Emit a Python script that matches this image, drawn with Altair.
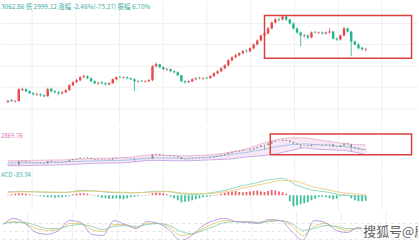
import altair as alt
import pandas as pd

# ---------------- data ----------------
idx = list(range(100))
opens = [2790, 2810, 2795, 2800, 2910, 2920, 2900, 2880, 2865, 2870,
         2860, 2850, 2925, 2900, 2890, 2878, 2890, 2910, 2960, 2990,
         3010, 3040, 3050, 3030, 3000, 2975, 2990, 2980, 2968, 2980,
         3020, 3045, 3035, 3040, 3030, 3020, 2995, 3005, 2995, 3000,
         3010, 3150, 3170, 3140, 3115, 3120, 3100, 3090, 3060, 3000,
         2990, 3000, 3020, 3035, 3025, 3035, 3030, 3050, 3080, 3100,
         3130, 3160, 3210, 3240, 3260, 3280, 3305, 3300, 3330, 3370,
         3410, 3460, 3480, 3530, 3590, 3625, 3620, 3650, 3620, 3580,
         3530, 3490, 3455, 3460, 3440, 3495, 3485, 3490, 3480, 3490,
         3500, 3430, 3420, 3460, 3530, 3500, 3400, 3370, 3335, 3315]
closes = [2800, 2800, 2800, 2920, 2920, 2900, 2880, 2870, 2870, 2860,
          2850, 2920, 2900, 2890, 2880, 2890, 2910, 2960, 2990, 3010,
          3040, 3050, 3030, 3000, 2980, 2980, 2980, 2970, 2980, 3020,
          3040, 3040, 3040, 3030, 3020, 3000, 3000, 3000, 3000, 3010,
          3150, 3170, 3140, 3120, 3120, 3100, 3090, 3060, 3000, 2990,
          3000, 3020, 3030, 3030, 3030, 3030, 3050, 3080, 3100, 3130,
          3160, 3210, 3240, 3260, 3280, 3300, 3300, 3330, 3370, 3410,
          3460, 3480, 3530, 3590, 3620, 3620, 3650, 3620, 3580, 3530,
          3490, 3460, 3460, 3440, 3490, 3490, 3490, 3480, 3490, 3500,
          3430, 3420, 3460, 3530, 3500, 3400, 3370, 3330, 3320, 3320]
highs = [2815, 2820, 2812, 2930, 2935, 2930, 2910, 2890, 2885, 2880,
         2870, 2935, 2935, 2910, 2900, 2900, 2920, 2970, 3000, 3025,
         3050, 3065, 3060, 3040, 3010, 2995, 3000, 2990, 2990, 3030,
         3050, 3055, 3050, 3050, 3040, 3030, 3010, 3015, 3010, 3020,
         3160, 3190, 3175, 3150, 3135, 3130, 3110, 3100, 3065, 3010,
         3010, 3030, 3040, 3045, 3040, 3045, 3060, 3090, 3110, 3140,
         3170, 3220, 3250, 3275, 3290, 3315, 3320, 3340, 3380, 3420,
         3470, 3495, 3545, 3600, 3635, 3640, 3665, 3660, 3630, 3590,
         3540, 3500, 3475, 3470, 3500, 3505, 3500, 3500, 3500, 3530,
         3505, 3440, 3470, 3545, 3540, 3505, 3410, 3380, 3345, 3335]
lows = [2780, 2790, 2785, 2795, 2900, 2890, 2870, 2855, 2850, 2845,
        2835, 2845, 2890, 2875, 2860, 2865, 2880, 2905, 2950, 2985,
        3000, 3030, 3020, 2990, 2970, 2965, 2970, 2955, 2960, 2975,
        3010, 3030, 3025, 3020, 3010, 2900, 2985, 2990, 2985, 2990,
        3000, 3140, 3130, 3110, 3105, 3090, 3080, 3050, 2990, 2975,
        2980, 2990, 3010, 3020, 3015, 3020, 3025, 3045, 3070, 3090,
        3120, 3150, 3200, 3230, 3250, 3270, 3285, 3290, 3320, 3360,
        3400, 3300, 3470, 3520, 3580, 3600, 3610, 3605, 3570, 3520,
        3475, 3350, 3440, 3425, 3430, 3480, 3475, 3470, 3470, 3480,
        3420, 3405, 3410, 3450, 3490, 3250, 3360, 3320, 3305, 3300]

band_idx = [0, 8, 16, 24, 32, 40, 48, 56, 62, 66, 70, 74, 78, 82, 86, 90, 94, 99]
band_upper = [2936, 2953, 2970, 3021, 3038, 3140, 3106, 3140, 3242, 3344, 3514, 3650, 3718, 3718, 3650, 3582, 3514, 3480]
band_mid = [2868, 2868, 2902, 2936, 2953, 3038, 3021, 3072, 3157, 3225, 3310, 3412, 3480, 3514, 3480, 3446, 3412, 3310]
band_lower = [2766, 2783, 2800, 2851, 2868, 2953, 2936, 2970, 3004, 3072, 3106, 3174, 3276, 3378, 3327, 3310, 3276, 3140]

macd_hist = [0.5, 1, 1.5, 2, 2, 1.5, 1, 0.5,
             -0.5, -1, -1.5, -2, -2, -2.5, -2, -2, -1.5, -1,
             1, 1.5, 2, 2, 1.5, 0.5, -0.5,
             -1.5, -2.5, -3, -3.5, -3.5, -3, -3.5, -4, -3, -2,
             -1.5, -1, -0.5, -0.5, 0.5,
             2, 2.5, 2.5, 2, 1,
             -1.5, -3, -5, -7, -6.5, -6, -5, -4, -3, -2, -1.5, -1,
             -0.5, 0.5, 1.5, 2.5, 3.5, 4, 4.5, 3.5, 3, 3.5, 4, 4.5, 5, 4, 3.5, 4.5, 5.5, 5, 4, 3, 1.5,
             -6, -11, -10, -9, -8, -7, -5, -3.5, -2, -1.5,
             -2, -3, -4, -3.5, -1, 1, 0.5,
             -3, -5, -6, -6, -5.5]
line_idx = [0, 4, 8, 12, 16, 20, 24, 28, 32, 36, 40, 44, 48, 52, 56, 60, 64, 68, 72, 76, 80, 84, 88, 92, 96, 99]
dif = [3.5, 4, 3.5, 3, 3, 5, 4.5, 3, 2.5, 2.5, 4, 4, 1.5, 1, 2.5, 5, 9, 12, 15.5, 17, 10, 5.5, 3.5, 0.5, -0.5, -1.5]
dea = [3, 3.5, 3.5, 3.2, 3, 4, 4.3, 3.5, 3, 2.7, 3.3, 3.8, 2.5, 1.7, 2, 3.5, 6.5, 9.5, 12.5, 15, 14, 9, 6, 3, 1.5, 0.5]

kdj_idx = list(range(0, 100, 3))
k_vals = [80, 87, 80, 61, 54, 57, 80, 80, 57, 50, 76, 76, 65, 80, 80, 65, 35, 39, 61, 80, 91, 87, 87, 84, 91, 91, 72, 35, 69, 80, 65, 54, 61, 50]
d_vals = [80, 84, 84, 72, 61, 61, 72, 76, 69, 57, 69, 72, 69, 76, 80, 72, 50, 42, 54, 69, 84, 87, 87, 84, 87, 91, 80, 54, 61, 72, 69, 61, 61, 54]
j_vals = [76, 99, 80, 46, 39, 54, 91, 84, 39, 35, 91, 76, 61, 87, 80, 54, 16, 35, 72, 91, 99, 87, 84, 80, 95, 91, 50, 16, 91, 84, 54, 46, 65, 39]
kdj_levels = [20, 50, 80]

grid_x = [6.7, 18.8, 30.9, 43.0, 55.1, 67.2, 79.3, 91.4, 103.5]
grid_price = [3580, 3370, 3150, 2940, 2720]

box_top_x = [71, 111.7]
box_top_price = [3660, 3230]
box_mid_x = [72.6, 111.7]
box_mid_price = [3854, 3140]

price_text = "3062.86 低 2999.12 涨幅 -2.46%(-75.27) 振幅 6.70%"
boll_text = "2869.76"
macd_text = "ACD -83.34"
watermark = "搜狐号@鹿"

# ---------------- style ----------------
RED = "#e5484d"
GREEN = "#1fb48c"
FONT = "Noto Sans CJK SC"
W = 419
xs = alt.Scale(domain=[-0.54, 112.1], nice=False, zero=False)
cs = alt.Scale(domain=["up", "down"], range=[RED, GREEN])

candles = pd.DataFrame({"i": idx, "open": opens, "close": closes, "high": highs, "low": lows})
candles["dir"] = ["up" if c >= o else "down" for o, c in zip(opens, closes)]

X = alt.X("i:Q", scale=xs, axis=None)


def vgrid():
    return alt.Chart(pd.DataFrame({"gx": grid_x})).mark_rule(color="#efefef", strokeWidth=1).encode(
        x=alt.X("gx:Q", scale=xs, axis=None))


def label(txt, x, y, color, size):
    return alt.Chart(pd.DataFrame({"t": [txt]})).mark_text(
        align="left", baseline="middle", fontSize=size, color=color, font=FONT, clip=True
    ).encode(x=alt.value(x), y=alt.value(y), text="t:N")


# top panel: candlesticks
ys_top = alt.Scale(domain=[2550, 3800], nice=False, zero=False)
hgrid = alt.Chart(pd.DataFrame({"gp": grid_price})).mark_rule(color="#efefef", strokeWidth=1).encode(
    y=alt.Y("gp:Q", scale=ys_top, axis=None))
cbase = alt.Chart(candles)
wick = cbase.mark_rule(strokeWidth=0.8, clip=True).encode(
    x=X, y=alt.Y("low:Q", scale=ys_top, axis=None), y2="high:Q",
    color=alt.Color("dir:N", scale=cs, legend=None))
body = cbase.mark_bar(size=2.4, clip=True).encode(
    x=X, y=alt.Y("open:Q", scale=ys_top, axis=None), y2="close:Q",
    color=alt.Color("dir:N", scale=cs, legend=None))
box_top = alt.Chart(pd.DataFrame({"x0": [box_top_x[0]], "x1": [box_top_x[1]],
                                  "p0": [box_top_price[0]], "p1": [box_top_price[1]]})).mark_rect(
    fillOpacity=0, stroke="#d9403a", strokeWidth=1.5, clip=True).encode(
    x=alt.X("x0:Q", scale=xs, axis=None), x2="x1:Q",
    y=alt.Y("p0:Q", scale=ys_top, axis=None), y2="p1:Q")
top = alt.layer(vgrid(), hgrid, wick, body, box_top,
                label(price_text, 0, 5, "#3aaea0", 6.5)).properties(width=W, height=125)

# middle panel: bands
ys_mid = alt.Scale(domain=[2698, 4058], nice=False, zero=False)
band = pd.DataFrame({"i": band_idx, "up": band_upper, "mid": band_mid, "lo": band_lower})
bb = alt.Chart(band)
band_area = bb.mark_area(color="#f7e4f3", opacity=0.9, interpolate="monotone").encode(
    x=X, y=alt.Y("up:Q", scale=ys_mid, axis=None), y2="lo:Q")
up_line = bb.mark_line(color="#eeb0cf", strokeWidth=0.9, interpolate="monotone").encode(
    x=X, y=alt.Y("up:Q", scale=ys_mid, axis=None))
lo_line = bb.mark_line(color="#c2a6e6", strokeWidth=0.9, interpolate="monotone").encode(
    x=X, y=alt.Y("lo:Q", scale=ys_mid, axis=None))
mid_line = bb.mark_line(color="#9cc3ea", strokeWidth=0.9, interpolate="monotone").encode(
    x=X, y=alt.Y("mid:Q", scale=ys_mid, axis=None))
mwick = cbase.mark_rule(strokeWidth=0.6, color="#8a8a8a").encode(
    x=X, y=alt.Y("low:Q", scale=ys_mid, axis=None), y2="high:Q")
mbody = cbase.mark_bar(size=1.6, color="#8a8a8a").encode(
    x=X, y=alt.Y("open:Q", scale=ys_mid, axis=None), y2="close:Q")
box_mid = alt.Chart(pd.DataFrame({"x0": [box_mid_x[0]], "x1": [box_mid_x[1]],
                                  "p0": [box_mid_price[0]], "p1": [box_mid_price[1]]})).mark_rect(
    fillOpacity=0, stroke="#d9403a", strokeWidth=1.5, clip=True).encode(
    x=alt.X("x0:Q", scale=xs, axis=None), x2="x1:Q",
    y=alt.Y("p0:Q", scale=ys_mid, axis=None), y2="p1:Q")
mid = alt.layer(vgrid(), band_area, up_line, lo_line, mid_line, mwick, mbody, box_mid,
                label(boll_text, 0, 8, "#d774b6", 6)).properties(width=W, height=40)

# MACD panel
ys_macd = alt.Scale(domain=[-14.3, 25.7], nice=False, zero=False)
hist = pd.DataFrame({"i": idx, "h": macd_hist, "zero": [0] * len(idx)})
hist["dir"] = ["up" if v >= 0 else "down" for v in macd_hist]
bars = alt.Chart(hist).mark_bar(size=1.8, opacity=0.85, clip=True).encode(
    x=X, y=alt.Y("h:Q", scale=ys_macd, axis=None), y2="zero:Q",
    color=alt.Color("dir:N", scale=cs, legend=None))
ml = pd.DataFrame({"i": line_idx, "dif": dif, "dea": dea})
dif_line = alt.Chart(ml).mark_line(color="#86d4bb", strokeWidth=0.9, interpolate="monotone").encode(
    x=X, y=alt.Y("dif:Q", scale=ys_macd, axis=None))
dea_line = alt.Chart(ml).mark_line(color="#ecc878", strokeWidth=0.9, interpolate="monotone").encode(
    x=X, y=alt.Y("dea:Q", scale=ys_macd, axis=None))
macd = alt.layer(vgrid(), bars, dif_line, dea_line,
                 label(macd_text, 0, 5, "#3ab5a5", 6)).properties(width=W, height=40)

# KDJ panel
ys_kdj = alt.Scale(domain=[-6.4, 125], nice=False, zero=False)
kd = pd.DataFrame({"i": kdj_idx, "k": k_vals, "d": d_vals, "j": j_vals})
lv = alt.Chart(pd.DataFrame({"lv": kdj_levels})).mark_rule(color="#dddddd", strokeWidth=0.8,
                                                           strokeDash=[3, 3]).encode(
    y=alt.Y("lv:Q", scale=ys_kdj, axis=None))
k_line = alt.Chart(kd).mark_line(color="#e3c873", strokeWidth=0.9, interpolate="monotone").encode(
    x=X, y=alt.Y("k:Q", scale=ys_kdj, axis=None))
d_line = alt.Chart(kd).mark_line(color="#8fd0b0", strokeWidth=0.9, interpolate="monotone").encode(
    x=X, y=alt.Y("d:Q", scale=ys_kdj, axis=None))
j_line = alt.Chart(kd).mark_line(color="#b195dd", strokeWidth=0.9, interpolate="monotone", clip=True).encode(
    x=X, y=alt.Y("j:Q", scale=ys_kdj, axis=None))
wm_df = pd.DataFrame({"t": [watermark]})
wm_halo = alt.Chart(wm_df).mark_text(align="left", baseline="middle", fontSize=13, font=FONT,
                                     color="white", stroke="white", strokeWidth=3, clip=True).encode(
    x=alt.value(364), y=alt.value(21), text="t:N")
wm = alt.Chart(wm_df).mark_text(align="left", baseline="middle", fontSize=13, font=FONT,
                                color="#5f5f5f", clip=True).encode(
    x=alt.value(364), y=alt.value(21), text="t:N")
kdj = alt.layer(vgrid(), lv, k_line, d_line, j_line, wm_halo, wm).properties(width=W, height=35)

chart = alt.vconcat(top, mid, macd, kdj, spacing=0).properties(
    padding=0, background="white").configure_view(stroke=None)

chart.save("out.html", embed_options={"renderer": "svg", "actions": False})
